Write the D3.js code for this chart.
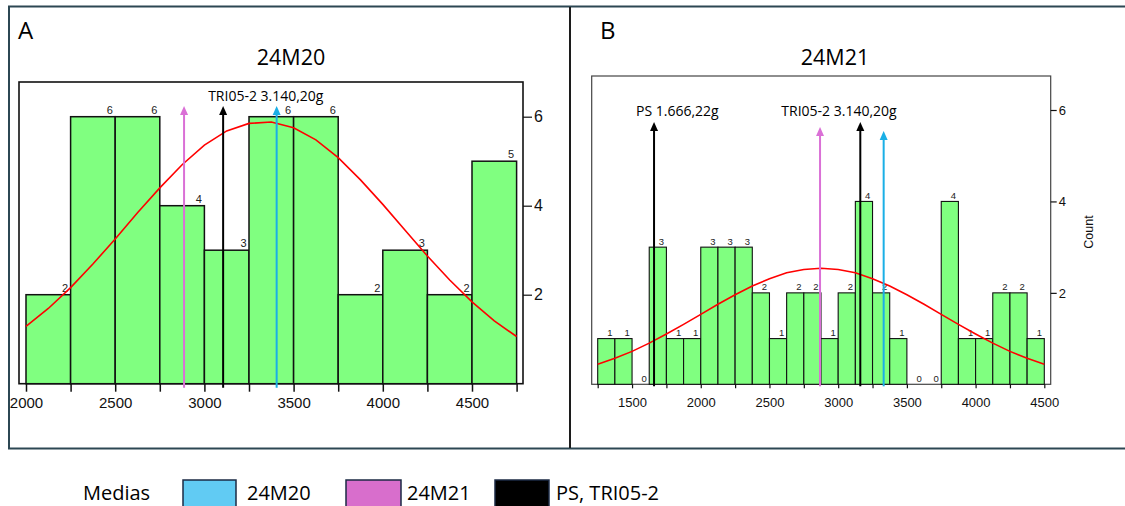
<!DOCTYPE html>
<html><head><meta charset="utf-8">
<script src="https://cdn.jsdelivr.net/npm/d3@7"></script>
<style>body{margin:0;background:#fff} svg{display:block}</style>
</head><body><svg id="c" width="1125" height="506"></svg>
<script>
// ---------- DATA ----------
const binStartsA = [2000,2250,2500,2750,3000,3250,3500,3750,4000,4250,4500];
const countsA    = [2,6,6,4,3,6,6,2,3,2,5];
const binWidthA  = 250;
const binStartsB = [1250,1375,1500,1625,1750,1875,2000,2125,2250,2375,2500,2625,2750,2875,3000,3125,3250,3375,3500,3625,3750,3875,4000,4125,4250,4375];
const countsB    = [1,1,0,3,1,1,3,3,3,2,1,2,2,1,2,4,2,1,0,0,4,1,1,2,2,1];
const binWidthB  = 125;
const curveXA = [2000,2125,2250,2375,2500,2625,2750,2875,3000,3125,3250,3375,3500,3625,3750,3875,4000,4125,4250,4375,4500,4625,4750];
const curveYA = [1.29,1.69,2.16,2.69,3.25,3.84,4.40,4.92,5.36,5.68,5.85,5.88,5.75,5.48,5.08,4.58,4.03,3.45,2.87,2.33,1.84,1.41,1.06];
const curveXB = [1250,1375,1500,1625,1750,1875,2000,2125,2250,2375,2500,2625,2750,2875,3000,3125,3250,3375,3500,3625,3750,3875,4000,4125,4250,4375,4500];
const curveYB = [0.44,0.57,0.72,0.90,1.10,1.31,1.53,1.75,1.96,2.15,2.31,2.44,2.51,2.54,2.51,2.44,2.31,2.15,1.96,1.75,1.53,1.31,1.10,0.90,0.72,0.57,0.44];
const xTicksA = [2000,2250,2500,2750,3000,3250,3500,3750,4000,4250,4500,4750];
const xTicksB = [1250,1500,1750,2000,2250,2500,2750,3000,3250,3500,3750,4000,4250,4500];
const yTicks  = [2,4,6];
// mean markers
const markerNamesA  = ["24M21","TRI05-2","24M20"];
const markerValuesA = [2886,3105,3405];
const markerLabelsA = ["","TRI05-2 3.140,20g",""];
const markerNamesB  = ["PS","24M21","TRI05-2","24M20"];
const markerValuesB = [1660,2868,3161,3331];
const markerLabelsB = ["PS 1.666,22g","","TRI05-2 3.140,20g",""];
const legendLabels  = ["24M20","24M21","PS, TRI05-2"];
const titles = ["24M20","24M21"];
const panelLetters = ["A","B"];

// ---------- STYLE ----------
const colBar = "#80FF80";
const markerColor = {"24M20":"#1AAFE6","24M21":"#DA70D6","TRI05-2":"#000","PS":"#000"};
const legendFill = ["#61CBF3","#D86ECC","#000000"];
const UI = "'Open Sans', 'Noto Sans', sans-serif";
const PL = "'Liberation Sans', Arial, sans-serif";

const svg = d3.select("#c");

// outer border and divider
svg.append("rect").attr("x",9).attr("y",6.5).attr("width",1130).attr("height",442)
  .attr("fill","none").attr("stroke","#2c4753").attr("stroke-width",2);
svg.append("line").attr("x1",570).attr("x2",570).attr("y1",7).attr("y2",448)
  .attr("stroke","#1c1c1c").attr("stroke-width",2);

function panel(cfg){
  const g = svg.append("g");
  const x = d3.scaleLinear().domain(cfg.xDom).range(cfg.xRange);
  const y = d3.scaleLinear().domain([0,6]).range([cfg.y0, cfg.y6]);
  g.append("text").attr("x",cfg.letterX).attr("y",39).text(cfg.letter)
    .attr("font-family",UI).attr("font-size",24).attr("fill","#000");
  g.append("text").attr("x",cfg.titleX).attr("y",65).attr("text-anchor","middle").text(cfg.title)
    .attr("font-family",UI).attr("font-size",21.5).attr("fill","#000");
  g.append("rect").attr("x",cfg.fx0).attr("y",cfg.fy0)
    .attr("width",cfg.fx1-cfg.fx0).attr("height",cfg.y0-cfg.fy0)
    .attr("fill","none").attr("stroke",cfg.frameCol).attr("stroke-width",cfg.frameW);
  const bins = cfg.starts.map((s,i)=>({s,c:cfg.counts[i]}));
  g.selectAll("rect.bar").data(bins).enter()
    .append("rect").attr("class","bar")
    .attr("x",d=>x(d.s)).attr("width",d=>x(d.s+cfg.bw)-x(d.s))
    .attr("y",d=>y(d.c)).attr("height",d=>y(0)-y(d.c))
    .attr("fill",colBar).attr("stroke",d=>d.c>0?"#111":"none").attr("stroke-width",cfg.barW);
  g.selectAll("text.cnt").data(bins).enter()
    .append("text").attr("class","cnt")
    .attr("x",d=>x(d.s+cfg.bw)-cfg.lblOff).attr("y",d=>y(d.c)-cfg.lblGap)
    .attr("text-anchor","middle").text(d=>d.c)
    .attr("font-family",PL).attr("font-size",cfg.cntFs).attr("fill","#222");
  const xa = d3.axisBottom(x).tickValues(cfg.xTicks).tickSize(cfg.tickLen).tickPadding(cfg.tickPad)
    .tickFormat(v=> v%500===0 && v<=cfg.maxLbl && v>=cfg.minLbl ? String(v) : "");
  const gx = g.append("g").attr("transform",`translate(0,${cfg.y0})`).call(xa);
  gx.select(".domain").remove();
  gx.selectAll("line").attr("stroke","#111").attr("stroke-width",cfg.tickW);
  gx.selectAll("text").attr("font-family",PL).attr("font-size",cfg.axFs).attr("fill","#111");
  const ya = d3.axisRight(y).tickValues(yTicks).tickSize(cfg.yTickLen).tickPadding(2).tickFormat(d3.format("d"));
  const gy = g.append("g").attr("transform",`translate(${cfg.fx1},0)`).call(ya);
  gy.select(".domain").remove();
  gy.selectAll("line").attr("stroke","#111").attr("stroke-width",1.2);
  gy.selectAll("text").attr("font-family",PL).attr("font-size",cfg.yFs).attr("fill","#111");
  const line = d3.line().x(d=>x(d[0])).y(d=>y(d[1]));
  g.append("path").datum(cfg.cx.map((v,i)=>[v,cfg.cy[i]])).attr("d",line)
    .attr("fill","none").attr("stroke","#FF0000").attr("stroke-width",1.6);
  cfg.mNames.forEach((n,i)=>{
    const mx = x(cfg.mVals[i]);
    const tip = cfg.mTips[i];
    const col = markerColor[n];
    g.append("line").attr("x1",mx).attr("x2",mx).attr("y1",cfg.y0+cfg.mBelow).attr("y2",tip+7)
      .attr("stroke",col).attr("stroke-width",2);
    g.append("path").attr("d",`M${mx},${tip} L${mx-4},${tip+9} L${mx+4},${tip+9} Z`).attr("fill",col);
    if(cfg.mLabels[i]){
      g.append("text").attr("x",mx+cfg.mLblDx[i]).attr("y",cfg.mLblY).text(cfg.mLabels[i])
        .attr("font-family",UI).attr("font-size",14).attr("fill","#000");
    }
  });
  if(cfg.yTitle){
    g.append("text").attr("transform",`translate(${cfg.yTitleX},232) rotate(-90)`)
      .attr("text-anchor","middle").text(cfg.yTitle)
      .attr("font-family",PL).attr("font-size",12.5).attr("fill","#111");
  }
}

panel({
  letter:panelLetters[0], letterX:18, title:titles[0], titleX:291,
  xDom:[2000,4500], xRange:[26,472], y0:383.7, y6:116.7,
  fx0:19, fx1:523, fy0:82, frameCol:"#111", frameW:1.6,
  starts:binStartsA, counts:countsA, bw:binWidthA, barW:1.5,
  lblOff:5.5, lblGap:3, cntFs:11,
  xTicks:xTicksA, tickLen:8, tickPad:6, tickW:1.5, minLbl:2000, maxLbl:4500, axFs:15, yFs:16,
  yTickLen:9,
  cx:curveXA, cy:curveYA,
  mNames:markerNamesA, mVals:markerValuesA, mLabels:markerLabelsA,
  mTips:[106,106,106], mBelow:4, mLblDx:[0,-15,0], mLblY:101
});
panel({
  letter:panelLetters[1], letterX:600, title:titles[1], titleX:835,
  xDom:[1250,4500], xRange:[597.7,1044.3], y0:384.3, y6:110,
  fx0:591.7, fx1:1050.7, fy0:76, frameCol:"#444", frameW:1.2,
  starts:binStartsB, counts:countsB, bw:binWidthB, barW:1.1,
  lblOff:5, lblGap:2.5, cntFs:9.5,
  xTicks:xTicksB, tickLen:4, tickPad:9, tickW:1.2, minLbl:1500, maxLbl:4500, axFs:13, yFs:13,
  yTickLen:6,
  cx:curveXB, cy:curveYB,
  mNames:markerNamesB, mVals:markerValuesB, mLabels:markerLabelsB,
  mTips:[122,127,122,131], mBelow:2, mLblDx:[-18,0,-79,0], mLblY:116,
  yTitle:"Count", yTitleX:1093
});

// legend
const lg = svg.append("g");
lg.append("text").attr("x",83).attr("y",500).text("Medias")
  .attr("font-family",UI).attr("font-size",20).attr("fill","#000");
const legX = [183,346,495], legW=[53,55,54], legTx=[247,407,556];
legendLabels.forEach((l,i)=>{
  lg.append("rect").attr("x",legX[i]).attr("y",480).attr("width",legW[i]).attr("height",34)
    .attr("fill",legendFill[i]).attr("stroke","#1b2a44").attr("stroke-width",1.5);
  lg.append("text").attr("x",legTx[i]).attr("y",500).text(l)
    .attr("font-family",UI).attr("font-size",20).attr("fill","#000");
});
</script></body></html>
